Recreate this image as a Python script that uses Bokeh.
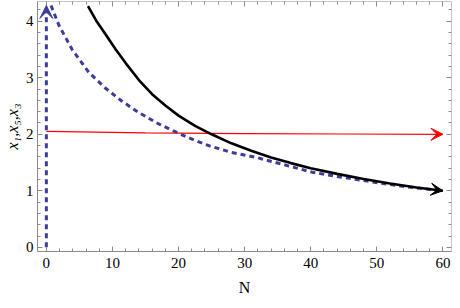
from bokeh.plotting import figure
from bokeh.models import (Range1d, LinearAxis, SingleIntervalTicker,
                          CustomJSTickFormatter, Arrow, VeeHead)
from bokeh.embed import file_html
from bokeh.resources import INLINE

# ---- data ----
x1_n = [6.3, 7.5, 9, 10.5, 12, 14, 16, 18, 20, 22.5, 25, 28, 31, 34, 37, 40, 44, 48, 52, 56, 60]
x1_y = [4.27, 4.02, 3.76, 3.50, 3.26, 2.96, 2.71, 2.51, 2.33, 2.15, 2.00, 1.84, 1.71, 1.59,
        1.49, 1.40, 1.30, 1.21, 1.13, 1.06, 1.00]

x5_n = [0.7, 1.9, 3.9, 6.4, 8.9, 11.4, 13.9, 16.9, 19.4, 22.3, 24.8, 28, 31.8, 36, 40.2,
        44.2, 48, 52, 56, 60]
x5_y = [4.28, 3.93, 3.50, 3.10, 2.82, 2.59, 2.39, 2.19, 2.05, 1.90, 1.79, 1.68, 1.59, 1.46,
        1.33, 1.25, 1.18, 1.11, 1.05, 1.00]

x5_rise_n = [0, 0, 0]
x5_rise_y = [0, 4.0, 4.28]

x3_n = [0, 15, 30, 45, 60]
x3_y = [2.05, 2.025, 2.012, 2.005, 2.0]

x_range = (-1.34, 61.3)
y_range = (-0.074, 4.35)

# ---- styles ----
SERIF = "'Liberation Serif', 'DejaVu Serif', serif"
AX_COL = "#8a8a8a"
BLUE = "#3d3d99"

p = figure(width=452, height=300, output_backend="svg", toolbar_location=None,
           x_range=Range1d(*x_range), y_range=Range1d(*y_range),
           min_border_left=30, min_border_right=1, min_border_top=1, min_border_bottom=49,
           x_axis_label="N", y_axis_label="x₁,x₅,x₃")
p.outline_line_color = None
p.xgrid.grid_line_color = None
p.ygrid.grid_line_color = None
p.background_fill_color = "white"
p.border_fill_color = "white"

p.xaxis.ticker = SingleIntervalTicker(interval=10, num_minor_ticks=5)
p.yaxis.ticker = SingleIntervalTicker(interval=1, num_minor_ticks=5)


def style_axis(ax):
    ax.axis_line_color = AX_COL
    ax.major_tick_line_color = AX_COL
    ax.minor_tick_line_color = AX_COL
    ax.major_tick_in = 5
    ax.major_tick_out = 0
    ax.minor_tick_in = 3
    ax.minor_tick_out = 0
    ax.major_label_text_font = SERIF
    ax.major_label_text_font_size = "15px"
    ax.major_label_text_color = "black"
    ax.axis_label_text_font = SERIF
    ax.axis_label_text_color = "black"


for ax in (p.xaxis[0], p.yaxis[0]):
    style_axis(ax)
p.xaxis.major_label_standoff = 6
p.xaxis.axis_label_standoff = 8
p.xaxis.axis_label_text_font_size = "16px"
p.xaxis.axis_label_text_font_style = "normal"
p.yaxis.major_label_standoff = 4
p.yaxis.axis_label_standoff = 2
p.yaxis.axis_label_text_font_size = "16px"
p.yaxis.axis_label_text_font_style = "italic"

blank = CustomJSTickFormatter(code="return ''")
top = LinearAxis(ticker=SingleIntervalTicker(interval=10, num_minor_ticks=5), formatter=blank,
                 fixed_location=y_range[1])
right = LinearAxis(ticker=SingleIntervalTicker(interval=1, num_minor_ticks=5), formatter=blank,
                   fixed_location=x_range[1])
for ax in (top, right):
    style_axis(ax)
    ax.major_label_standoff = 0
    ax.major_label_text_font_size = "0px"
p.add_layout(top, "above")
p.add_layout(right, "right")

# ---- series ----
p.line(x3_n, x3_y, line_color="red", line_width=1.2)
p.line(x5_rise_n, x5_rise_y, line_color=BLUE, line_width=3, line_dash="5 4")
p.line(x5_n, x5_y, line_color=BLUE, line_width=3, line_dash="5 4")
p.line(x1_n, x1_y, line_color="black", line_width=2.6)

# arrow heads at the ends of the series
p.add_layout(Arrow(end=VeeHead(size=12, fill_color="red", line_color="red"),
                   x_start=x3_n[-2], y_start=x3_y[-2], x_end=x3_n[-1], y_end=x3_y[-1],
                   line_alpha=0))
p.add_layout(Arrow(end=VeeHead(size=12, fill_color="black", line_color="black"),
                   x_start=x1_n[-2], y_start=x1_y[-2], x_end=x1_n[-1], y_end=x1_y[-1],
                   line_alpha=0))
p.add_layout(Arrow(end=VeeHead(size=13, fill_color=BLUE, line_color=BLUE),
                   x_start=x5_rise_n[-2], y_start=x5_rise_y[-2],
                   x_end=x5_rise_n[-1], y_end=x5_rise_y[-1], line_alpha=0))

open("out.html", "w").write(file_html(p, INLINE))
